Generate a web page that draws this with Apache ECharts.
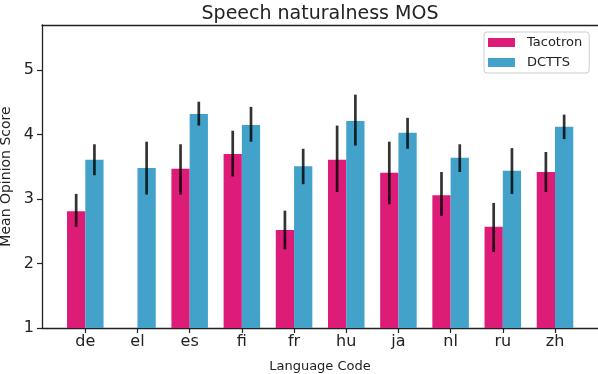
<!DOCTYPE html>
<html>
<head>
<meta charset="utf-8">
<script src="https://cdn.jsdelivr.net/npm/echarts@6/dist/echarts.min.js"></script>
<style>
  html, body { margin: 0; padding: 0; background: #fff; }
  #chart { width: 598px; height: 374px; }
</style>
</head>
<body>
<div id="chart"></div>
<script>
// language codes on the x axis
const languages = ['de', 'el', 'es', 'fi', 'fr', 'hu', 'ja', 'nl', 'ru', 'zh'];

// mean opinion scores (null = no Tacotron result for el)
const tacotron     = [2.81, null, 3.47, 3.70, 2.52, 3.61, 3.41, 3.06, 2.57, 3.42];
const tacotronLow  = [2.57, null, 3.07, 3.35, 2.22, 3.11, 2.92, 2.74, 2.18, 3.11];
const tacotronHigh = [3.08, null, 3.85, 4.06, 2.82, 4.14, 3.89, 3.42, 2.94, 3.73];

const dctts     = [3.61, 3.48, 4.32, 4.15, 3.51, 4.21, 4.03, 3.64, 3.44, 4.12];
const dcttsLow  = [3.37, 3.07, 4.14, 3.89, 3.23, 3.83, 3.78, 3.42, 3.08, 3.93];
const dcttsHigh = [3.85, 3.89, 4.51, 4.43, 3.78, 4.62, 4.26, 3.85, 3.79, 4.31];

const yTicks = [1, 2, 3, 4, 5];

const PINK = '#dd1c77';
const BLUE = '#43a2ca';
const FONT = 'DejaVu Sans';

function errData(low, high) {
    return low.map((lo, i) => lo == null ? null : [i, lo, high[i]]).filter(d => d !== null);
}

// side: -1 = left bar (Tacotron), +1 = right bar (DCTTS)
function errRenderer(side) {
    return function (params, api) {
        const band = api.size([1, 0])[0];
        const shift = side * band * 0.175;
        const top = api.coord([api.value(0), api.value(2)]);
        const bottom = api.coord([api.value(0), api.value(1)]);
        return {
            type: 'line',
            shape: { x1: top[0] + shift, y1: top[1], x2: bottom[0] + shift, y2: bottom[1] },
            style: { stroke: 'rgba(0,0,0,0.8)', lineWidth: 2.7 }
        };
    };
}

const chart = echarts.init(document.getElementById('chart'), null, { renderer: 'canvas' });

const option = {
    animation: false,
    backgroundColor: '#fff',
    textStyle: { fontFamily: FONT },
    title: {
        text: 'Speech naturalness MOS',
        left: 315,
        textAlign: 'center',
        top: 0,
        textStyle: { fontFamily: FONT, fontSize: 19, fontWeight: 'normal', color: '#222' }
    },
    legend: {
        orient: 'vertical',
        left: 484,
        top: 32,
        padding: [3, 7, 3, 4],
        itemGap: 5,
        itemWidth: 27,
        itemHeight: 9,
        borderColor: '#cccccc',
        borderWidth: 1,
        borderRadius: 3,
        backgroundColor: 'rgba(255,255,255,0.8)',
        icon: 'rect',
        textStyle: { fontFamily: FONT, fontSize: 13, color: '#222', lineHeight: 15, padding: [0, 0, 0, 7] },
        data: ['Tacotron', 'DCTTS']
    },
    grid: [
        // frame grid: spans the full axes area
        { left: 42, right: 0, top: 25, bottom: 46, outerBoundsMode: 'none' },
        // bar grid: narrower so that category centres line up with the ticks
        { left: 59.2, right: 16.9, top: 25, bottom: 46, outerBoundsMode: 'none' }
    ],
    xAxis: [
        {
            gridIndex: 0, type: 'value', min: 0, max: 1, position: 'bottom',
            name: 'Language Code', nameLocation: 'middle', nameGap: 32,
            nameTextStyle: { fontFamily: FONT, fontSize: 13, color: '#222' },
            axisLine: { show: true, lineStyle: { color: '#222', width: 1.3 } },
            axisTick: { show: false }, axisLabel: { show: false }, splitLine: { show: false }
        },
        {
            gridIndex: 0, type: 'value', min: 0, max: 1, position: 'top',
            axisLine: { show: true, lineStyle: { color: '#222', width: 1.3 } },
            axisTick: { show: false }, axisLabel: { show: false }, splitLine: { show: false }
        },
        {
            gridIndex: 1, type: 'category', data: languages, position: 'bottom',
            axisLine: { show: false },
            axisTick: { show: true, alignWithLabel: true, length: 5, lineStyle: { color: '#222', width: 1.2 } },
            axisLabel: { fontFamily: FONT, fontSize: 16, color: '#222', margin: 6 },
            splitLine: { show: false }
        }
    ],
    yAxis: [
        {
            gridIndex: 0, type: 'value', min: 1, max: 5.7,
            name: 'Mean Opinion Score', nameLocation: 'middle', nameGap: 29,
            nameTextStyle: { fontFamily: FONT, fontSize: 14, color: '#222' },
            axisLine: { show: true, lineStyle: { color: '#222', width: 1.3 } },
            axisTick: { show: true, length: 5, customValues: yTicks, lineStyle: { color: '#222', width: 1.2 } },
            axisLabel: { fontFamily: FONT, fontSize: 16, color: '#222', margin: 8, customValues: yTicks },
            splitLine: { show: false }
        },
        {
            gridIndex: 1, type: 'value', min: 1, max: 5.7, show: false
        }
    ],
    series: [
        {
            name: 'Tacotron', type: 'bar', xAxisIndex: 2, yAxisIndex: 1,
            data: tacotron, barWidth: '35%', barGap: '0%', clip: true,
            itemStyle: { color: PINK }
        },
        {
            name: 'DCTTS', type: 'bar', xAxisIndex: 2, yAxisIndex: 1,
            data: dctts, barWidth: '35%', barGap: '0%', clip: true,
            itemStyle: { color: BLUE }
        },
        {
            type: 'custom', xAxisIndex: 2, yAxisIndex: 1, z: 5,
            renderItem: errRenderer(-1), data: errData(tacotronLow, tacotronHigh)
        },
        {
            type: 'custom', xAxisIndex: 2, yAxisIndex: 1, z: 5,
            renderItem: errRenderer(1), data: errData(dcttsLow, dcttsHigh)
        }
    ]
};

chart.setOption(option);
</script>
</body>
</html>
